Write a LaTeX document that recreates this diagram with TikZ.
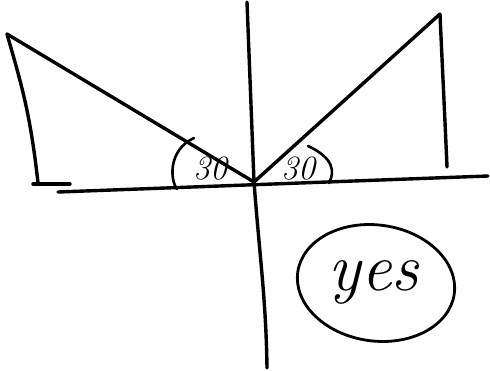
\documentclass[tikz,border=0pt]{standalone}
\usepackage{fontspec}
\setmainfont{Latin Modern Roman}
\usepackage{tikz}
\usetikzlibrary{calc,shapes.geometric}
\tikzset{
  pen/.style={line width=3.4pt,line cap=round,line join=round,black},
  thinpen/.style={line width=2.6pt,line cap=round,black},
  anglelabel/.style={font=\itshape\fontsize{34}{36}\selectfont,inner sep=0pt},
  answer/.style={font=\itshape\fontsize{68}{70}\selectfont,inner sep=0pt}
}
\begin{document}
\begin{tikzpicture}[x=1pt,y=-1pt]
  \useasboundingbox (0,0) rectangle (490,370);
  % axes
  \coordinate (vtop) at (247,2);
  \coordinate (vbot) at (267,368);
  \coordinate (hleft) at (58,192);
  \coordinate (hright) at (488,176);
  \coordinate (O) at (254,182);
  \draw[pen] (vtop) -- (O) .. controls (260,260) and (266,300) .. (vbot);
  \draw[pen] (hleft) -- (hright);

  % left triangle
  \coordinate (ltop) at (7,34);
  \coordinate (lfoot) at (38,183);
  \draw[pen] (O) -- (ltop);
  \draw[pen] (ltop) .. controls (20,80) and (30,110) .. (lfoot);
  \draw[pen] (33,184) -- (70,184);

  % right triangle
  \coordinate (rtop) at (440,14);
  \coordinate (rfoot) at (447,167);
  \draw[pen] (O) -- (rtop);
  \draw[pen] (rtop) .. controls (442,60) and (445,120) .. (rfoot);

  % angle marks
  \draw[thinpen] (194,138) .. controls (168,150) and (170,180) .. (177,189);
  \draw[thinpen] (308,146) .. controls (334,158) and (335,172) .. (329,183);
  \node[anglelabel] (alpha) at (210,169) {30};
  \node[anglelabel] (beta) at (298,169) {30};

  % answer
  \node[draw,ellipse,line width=2.8pt,minimum width=158pt,minimum height=116pt,
    rotate=-8] (ans) at (376,283) {};
  \node[answer] (yes) at (374,282) {yes};
\end{tikzpicture}
\end{document}
